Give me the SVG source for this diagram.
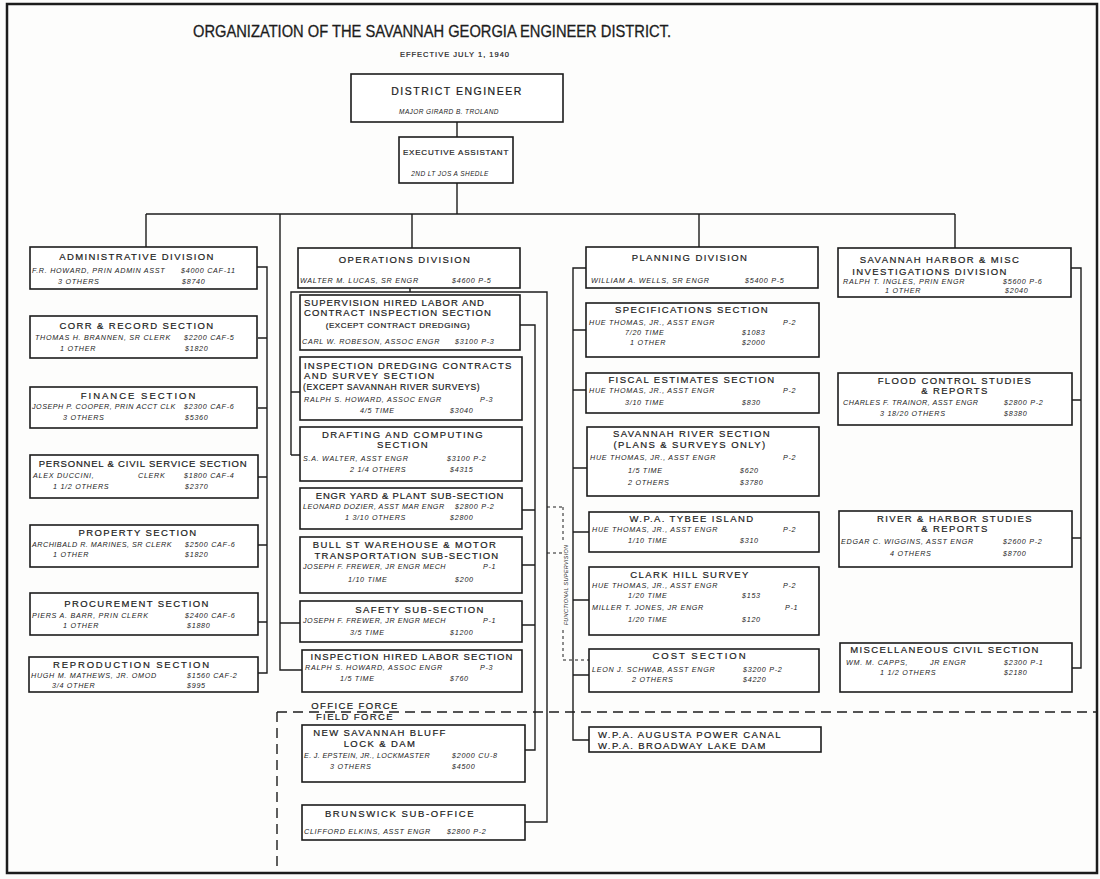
<svg xmlns="http://www.w3.org/2000/svg" width="1100" height="879" viewBox="0 0 1100 879">
<style>
.bg{fill:#fdfdfc}
.bx{fill:#fff;stroke:#1c1c1c;stroke-width:1.6}
.h{font-family:"Liberation Sans",Arial,sans-serif;font-size:9.5px;letter-spacing:1.4px;text-anchor:middle;fill:#1c1c1c;stroke:#1c1c1c;stroke-width:0.2}
.hl{font-family:"Liberation Sans",Arial,sans-serif;font-size:9.5px;letter-spacing:1.4px;fill:#1c1c1c;stroke:#1c1c1c;stroke-width:0.2}
.p{font-family:"Liberation Sans",Arial,sans-serif;font-size:7.2px;font-style:italic;letter-spacing:0.7px;fill:#1c1c1c}
.ln{fill:none;stroke:#1c1c1c;stroke-width:1.4}
.dash{fill:none;stroke:#1c1c1c;stroke-width:1.4;stroke-dasharray:10 6}
.dot{fill:none;stroke:#1c1c1c;stroke-width:1;stroke-dasharray:3 3}
</style>
<rect class="bg" x="0" y="0" width="1100" height="879"/>
<rect x="7" y="4" width="1090" height="869" fill="none" stroke="#1c1c1c" stroke-width="2.5"/>
<g id="title">
<text x="193" y="37" textLength="478" lengthAdjust="spacingAndGlyphs" style="font-family:'Liberation Sans',Arial,sans-serif;font-size:17px;fill:#1c1c1c;stroke:#1c1c1c;stroke-width:0.3">ORGANIZATION OF THE SAVANNAH GEORGIA ENGINEER DISTRICT.</text>
<text x="455" y="57" class="h" style="font-size:7.5px;letter-spacing:1px">EFFECTIVE JULY 1, 1940</text>
</g>
<g id="connectors">
<path class="ln" d="M457,122 V137 M457,183 V214 M146,214 H955 M146,214 V247 M412,214 V248 M699,214 V247 M955,214 V248"/>
<path class="ln" d="M257,267 H267 V673 H258 M258,338 H267 M258,408 H267 M258,477 H267 M258,545 H267 M258,622 H267"/>
<path class="ln" d="M280,214 V670 H302 M280,623 H300"/>
<path class="ln" d="M410,288 V292 M291,455 V292 H547 V822 H525 M291,392 H300 M291,455 H300"/>
<path class="ln" d="M520,325 H535 V750 H525 M522,510 H535 M522,565 H535 M522,625 H535"/>
<path class="dot" d="M547,507 H563 M547,553 H563 M563,507 V540 M563,630 V660 H589"/>
<text transform="translate(568,585) rotate(-90)" class="p" style="font-size:5.5px;letter-spacing:0.3px;text-anchor:middle">FUNCTIONAL SUPERVISION</text>
<path class="ln" d="M586,268 H573 V740 H589 M573,330 H586 M573,390 H586 M573,468 H587 M573,532 H589 M573,600 H589 M573,675 H589"/>
<path class="ln" d="M1071,268 H1081 V668 H1072 M1072,400 H1081 M1072,538 H1081"/>
<path class="dash" d="M277,712 H1097 M277,712 V872"/>
</g>
<g id="district-engineer">
<rect class="bx" x="351" y="74" width="212" height="48"/>
<text class="h" x="457" y="95" style="font-size:10.5px;letter-spacing:1.5px">DISTRICT ENGINEER</text>
<text class="p" x="449" y="114" style="text-anchor:middle;font-size:6.5px;letter-spacing:0.4px">MAJOR GIRARD B. TROLAND</text>
</g>
<g id="executive-assistant">
<rect class="bx" x="399" y="137" width="114" height="46"/>
<text class="h" x="456" y="155" style="font-size:8px;letter-spacing:0.8px">EXECUTIVE ASSISTANT</text>
<text class="p" x="450" y="176" style="text-anchor:middle;font-size:6.5px;letter-spacing:0.4px">2ND LT JOS A SHEDLE</text>
</g>
<g id="administrative-division">
<rect class="bx" x="30" y="247" width="227" height="42"/>
<text class="h" x="137" y="260">ADMINISTRATIVE DIVISION</text>
<text class="p" x="32" y="273">F.R. HOWARD, PRIN ADMIN ASST</text>
<text class="p" x="181" y="273">$4000 CAF-11</text>
<text class="p" x="58" y="284">3 OTHERS</text>
<text class="p" x="182" y="284">$8740</text>
</g>
<g id="corr-record">
<rect class="bx" x="30" y="316" width="227" height="42"/>
<text class="h" x="137" y="329">CORR &amp; RECORD SECTION</text>
<text class="p" x="35" y="340">THOMAS H. BRANNEN, SR CLERK</text>
<text class="p" x="184" y="340">$2200 CAF-5</text>
<text class="p" x="60" y="351">1 OTHER</text>
<text class="p" x="185" y="351">$1820</text>
</g>
<g id="finance">
<rect class="bx" x="30" y="387" width="227" height="41"/>
<text class="h" x="139" y="399" style="letter-spacing:2px">FINANCE  SECTION</text>
<text class="p" x="32" y="409" style="letter-spacing:0.5px">JOSEPH P. COOPER, PRIN ACCT CLK</text>
<text class="p" x="184" y="409">$2300 CAF-6</text>
<text class="p" x="63" y="420">3 OTHERS</text>
<text class="p" x="185" y="420">$5360</text>
</g>
<g id="personnel">
<rect class="bx" x="30" y="455" width="228" height="43"/>
<text class="h" x="143" y="467" style="letter-spacing:0.8px">PERSONNEL &amp; CIVIL SERVICE SECTION</text>
<text class="p" x="33" y="478">ALEX DUCCINI,</text>
<text class="p" x="138" y="478">CLERK</text>
<text class="p" x="184" y="478">$1800 CAF-4</text>
<text class="p" x="53" y="489">1 1/2 OTHERS</text>
<text class="p" x="185" y="489">$2370</text>
</g>
<g id="property">
<rect class="bx" x="30" y="525" width="228" height="42"/>
<text class="h" x="138" y="536">PROPERTY SECTION</text>
<text class="p" x="32" y="547" style="letter-spacing:0.5px">ARCHIBALD R. MARINES, SR CLERK</text>
<text class="p" x="185" y="547">$2500 CAF-6</text>
<text class="p" x="53" y="557">1 OTHER</text>
<text class="p" x="185" y="557">$1820</text>
</g>
<g id="procurement">
<rect class="bx" x="30" y="593" width="228" height="42"/>
<text class="h" x="137" y="607">PROCUREMENT SECTION</text>
<text class="p" x="32" y="618">PIERS A. BARR, PRIN CLERK</text>
<text class="p" x="185" y="618">$2400 CAF-6</text>
<text class="p" x="63" y="628">1 OTHER</text>
<text class="p" x="187" y="628">$1880</text>
</g>
<g id="reproduction">
<rect class="bx" x="29" y="657" width="229" height="35"/>
<text class="h" x="132" y="668" style="letter-spacing:1.8px">REPRODUCTION  SECTION</text>
<text class="p" x="31" y="678">HUGH M. MATHEWS, JR. OMOD</text>
<text class="p" x="187" y="678">$1560  CAF-2</text>
<text class="p" x="52" y="688">3/4 OTHER</text>
<text class="p" x="187" y="688">$995</text>
</g>
<g id="operations-division">
<rect class="bx" x="298" y="248" width="222" height="40"/>
<text class="h" x="405" y="263">OPERATIONS DIVISION</text>
<text class="p" x="300" y="283">WALTER M. LUCAS, SR ENGR</text>
<text class="p" x="452" y="283">$4600  P-5</text>
</g>
<g id="supervision">
<rect class="bx" x="300" y="295" width="220" height="55"/>
<text class="hl" x="304" y="306" style="letter-spacing:1px">SUPERVISION HIRED LABOR AND</text>
<text class="hl" x="304" y="316" style="letter-spacing:1.1px">CONTRACT INSPECTION SECTION</text>
<text class="h" x="398" y="328" style="font-size:8px;letter-spacing:0.6px">(EXCEPT CONTRACT DREDGING)</text>
<text class="p" x="302" y="344">CARL W. ROBESON, ASSOC ENGR</text>
<text class="p" x="455" y="344">$3100  P-3</text>
</g>
<g id="inspection-dredging">
<rect class="bx" x="300" y="357" width="222" height="63"/>
<text class="hl" x="304" y="369" style="letter-spacing:1.2px">INSPECTION DREDGING CONTRACTS</text>
<text class="hl" x="304" y="379">AND SURVEY SECTION</text>
<text class="hl" x="303" y="390" style="font-size:8.5px;letter-spacing:0.6px">(EXCEPT SAVANNAH RIVER SURVEYS)</text>
<text class="p" x="304" y="402">RALPH S. HOWARD, ASSOC ENGR</text>
<text class="p" x="480" y="402">P-3</text>
<text class="p" x="360" y="413">4/5 TIME</text>
<text class="p" x="450" y="413">$3040</text>
</g>
<g id="drafting">
<rect class="bx" x="300" y="427" width="222" height="54"/>
<text class="h" x="403" y="438">DRAFTING AND COMPUTING</text>
<text class="h" x="403" y="448">SECTION</text>
<text class="p" x="303" y="461">S.A. WALTER, ASST ENGR</text>
<text class="p" x="447" y="461">$3100  P-2</text>
<text class="p" x="350" y="472">2 1/4 OTHERS</text>
<text class="p" x="450" y="472">$4315</text>
</g>
<g id="engr-yard">
<rect class="bx" x="300" y="488" width="222" height="41"/>
<text class="h" x="410" y="499" style="letter-spacing:0.8px">ENGR YARD &amp; PLANT SUB-SECTION</text>
<text class="p" x="303" y="509" style="letter-spacing:0.5px">LEONARD DOZIER, ASST MAR ENGR</text>
<text class="p" x="455" y="509">$2800 P-2</text>
<text class="p" x="345" y="520">1 3/10 OTHERS</text>
<text class="p" x="450" y="520">$2800</text>
</g>
<g id="bull-st">
<rect class="bx" x="300" y="537" width="222" height="56"/>
<text class="h" x="405" y="548">BULL ST WAREHOUSE &amp; MOTOR</text>
<text class="h" x="407" y="559" style="letter-spacing:1.2px">TRANSPORTATION SUB-SECTION</text>
<text class="p" x="303" y="569" style="letter-spacing:0.5px">JOSEPH F. FREWER, JR ENGR MECH</text>
<text class="p" x="483" y="569">P-1</text>
<text class="p" x="348" y="582">1/10 TIME</text>
<text class="p" x="455" y="582">$200</text>
</g>
<g id="safety">
<rect class="bx" x="300" y="601" width="222" height="41"/>
<text class="h" x="420" y="613">SAFETY SUB-SECTION</text>
<text class="p" x="303" y="623" style="letter-spacing:0.5px">JOSEPH F. FREWER, JR ENGR MECH</text>
<text class="p" x="483" y="623">P-1</text>
<text class="p" x="350" y="635">3/5 TIME</text>
<text class="p" x="450" y="635">$1200</text>
</g>
<g id="inspection-hired-labor">
<rect class="bx" x="302" y="650" width="220" height="42"/>
<text class="h" x="412" y="660" style="letter-spacing:1.1px">INSPECTION HIRED LABOR SECTION</text>
<text class="p" x="305" y="670">RALPH S. HOWARD, ASSOC ENGR</text>
<text class="p" x="480" y="670">P-3</text>
<text class="p" x="340" y="681">1/5 TIME</text>
<text class="p" x="450" y="681">$760</text>
</g>
<g id="force-labels">
<text class="h" x="355" y="709">OFFICE FORCE</text>
<text class="h" x="355" y="720">FIELD FORCE</text>
</g>
<g id="new-savannah-bluff">
<rect class="bx" x="302" y="725" width="223" height="57"/>
<text class="h" x="380" y="736">NEW SAVANNAH BLUFF</text>
<text class="h" x="380" y="747">LOCK &amp; DAM</text>
<text class="p" x="304" y="758" style="letter-spacing:0.35px">E. J. EPSTEIN, JR., LOCKMASTER</text>
<text class="p" x="452" y="758">$2000  CU-8</text>
<text class="p" x="330" y="769">3 OTHERS</text>
<text class="p" x="452" y="769">$4500</text>
</g>
<g id="brunswick">
<rect class="bx" x="302" y="805" width="223" height="35"/>
<text class="h" x="400" y="817" style="letter-spacing:1.6px">BRUNSWICK  SUB-OFFICE</text>
<text class="p" x="304" y="834">CLIFFORD ELKINS, ASST ENGR</text>
<text class="p" x="447" y="834">$2800   P-2</text>
</g>
<g id="planning-division">
<rect class="bx" x="586" y="247" width="232" height="41"/>
<text class="h" x="690" y="261">PLANNING DIVISION</text>
<text class="p" x="591" y="283">WILLIAM A. WELLS, SR ENGR</text>
<text class="p" x="745" y="283">$5400  P-5</text>
</g>
<g id="specifications">
<rect class="bx" x="586" y="303" width="233" height="54"/>
<text class="h" x="692" y="313">SPECIFICATIONS SECTION</text>
<text class="p" x="589" y="325">HUE THOMAS, JR., ASST ENGR</text>
<text class="p" x="783" y="325">P-2</text>
<text class="p" x="625" y="335">7/20 TIME</text>
<text class="p" x="742" y="335">$1083</text>
<text class="p" x="630" y="345">1 OTHER</text>
<text class="p" x="742" y="345">$2000</text>
</g>
<g id="fiscal-estimates">
<rect class="bx" x="586" y="373" width="233" height="40"/>
<text class="h" x="692" y="383">FISCAL ESTIMATES SECTION</text>
<text class="p" x="589" y="393">HUE THOMAS, JR., ASST ENGR</text>
<text class="p" x="783" y="393">P-2</text>
<text class="p" x="625" y="405">3/10 TIME</text>
<text class="p" x="742" y="405">$830</text>
</g>
<g id="savannah-river">
<rect class="bx" x="587" y="427" width="232" height="69"/>
<text class="h" x="692" y="437">SAVANNAH RIVER SECTION</text>
<text class="h" x="690" y="448">(PLANS &amp; SURVEYS ONLY)</text>
<text class="p" x="590" y="460">HUE THOMAS, JR., ASST ENGR</text>
<text class="p" x="783" y="460">P-2</text>
<text class="p" x="628" y="473">1/5 TIME</text>
<text class="p" x="740" y="473">$620</text>
<text class="p" x="628" y="485">2 OTHERS</text>
<text class="p" x="740" y="485">$3780</text>
</g>
<g id="wpa-tybee">
<rect class="bx" x="589" y="512" width="230" height="40"/>
<text class="h" x="692" y="522">W.P.A. TYBEE ISLAND</text>
<text class="p" x="592" y="532">HUE THOMAS, JR., ASST ENGR</text>
<text class="p" x="783" y="532">P-2</text>
<text class="p" x="628" y="543">1/10 TIME</text>
<text class="p" x="740" y="543">$310</text>
</g>
<g id="clark-hill">
<rect class="bx" x="589" y="567" width="230" height="68"/>
<text class="h" x="690" y="578">CLARK HILL SURVEY</text>
<text class="p" x="592" y="588">HUE THOMAS, JR., ASST ENGR</text>
<text class="p" x="783" y="588">P-2</text>
<text class="p" x="628" y="598">1/20 TIME</text>
<text class="p" x="742" y="598">$153</text>
<text class="p" x="592" y="610">MILLER T. JONES, JR ENGR</text>
<text class="p" x="785" y="610">P-1</text>
<text class="p" x="628" y="622">1/20 TIME</text>
<text class="p" x="742" y="622">$120</text>
</g>
<g id="cost">
<rect class="bx" x="589" y="649" width="230" height="43"/>
<text class="h" x="700" y="659" style="letter-spacing:2px">COST  SECTION</text>
<text class="p" x="592" y="672">LEON J. SCHWAB, ASST ENGR</text>
<text class="p" x="743" y="672">$3200 P-2</text>
<text class="p" x="632" y="682">2 OTHERS</text>
<text class="p" x="743" y="682">$4220</text>
</g>
<g id="wpa-augusta">
<rect class="bx" x="589" y="727" width="232" height="25"/>
<text class="hl" x="598" y="738">W.P.A. AUGUSTA POWER CANAL</text>
<text class="hl" x="598" y="749">W.P.A. BROADWAY LAKE DAM</text>
</g>
<g id="savannah-harbor-division">
<rect class="bx" x="838" y="248" width="233" height="49"/>
<text class="h" x="940" y="263">SAVANNAH HARBOR &amp; MISC</text>
<text class="h" x="930" y="275">INVESTIGATIONS DIVISION</text>
<text class="p" x="843" y="284">RALPH T. INGLES, PRIN ENGR</text>
<text class="p" x="1003" y="284">$5600  P-6</text>
<text class="p" x="885" y="293">1 OTHER</text>
<text class="p" x="1005" y="293">$2040</text>
</g>
<g id="flood-control">
<rect class="bx" x="838" y="373" width="234" height="52"/>
<text class="h" x="955" y="384">FLOOD CONTROL STUDIES</text>
<text class="h" x="955" y="394">&amp; REPORTS</text>
<text class="p" x="843" y="405" style="letter-spacing:0.5px">CHARLES F. TRAINOR, ASST ENGR</text>
<text class="p" x="1004" y="405">$2800  P-2</text>
<text class="p" x="880" y="416">3 18/20 OTHERS</text>
<text class="p" x="1004" y="416">$8380</text>
</g>
<g id="river-harbor">
<rect class="bx" x="839" y="511" width="233" height="56"/>
<text class="h" x="955" y="522">RIVER &amp; HARBOR STUDIES</text>
<text class="h" x="955" y="532">&amp; REPORTS</text>
<text class="p" x="841" y="544">EDGAR C. WIGGINS, ASST ENGR</text>
<text class="p" x="1003" y="544">$2600   P-2</text>
<text class="p" x="890" y="556">4 OTHERS</text>
<text class="p" x="1003" y="556">$8700</text>
</g>
<g id="misc-civil">
<rect class="bx" x="840" y="643" width="232" height="49"/>
<text class="h" x="945" y="653">MISCELLANEOUS CIVIL SECTION</text>
<text class="p" x="846" y="665">WM. M. CAPPS,</text>
<text class="p" x="930" y="665">JR ENGR</text>
<text class="p" x="1004" y="665">$2300   P-1</text>
<text class="p" x="880" y="675">1 1/2 OTHERS</text>
<text class="p" x="1004" y="675">$2180</text>
</g>
</svg>
